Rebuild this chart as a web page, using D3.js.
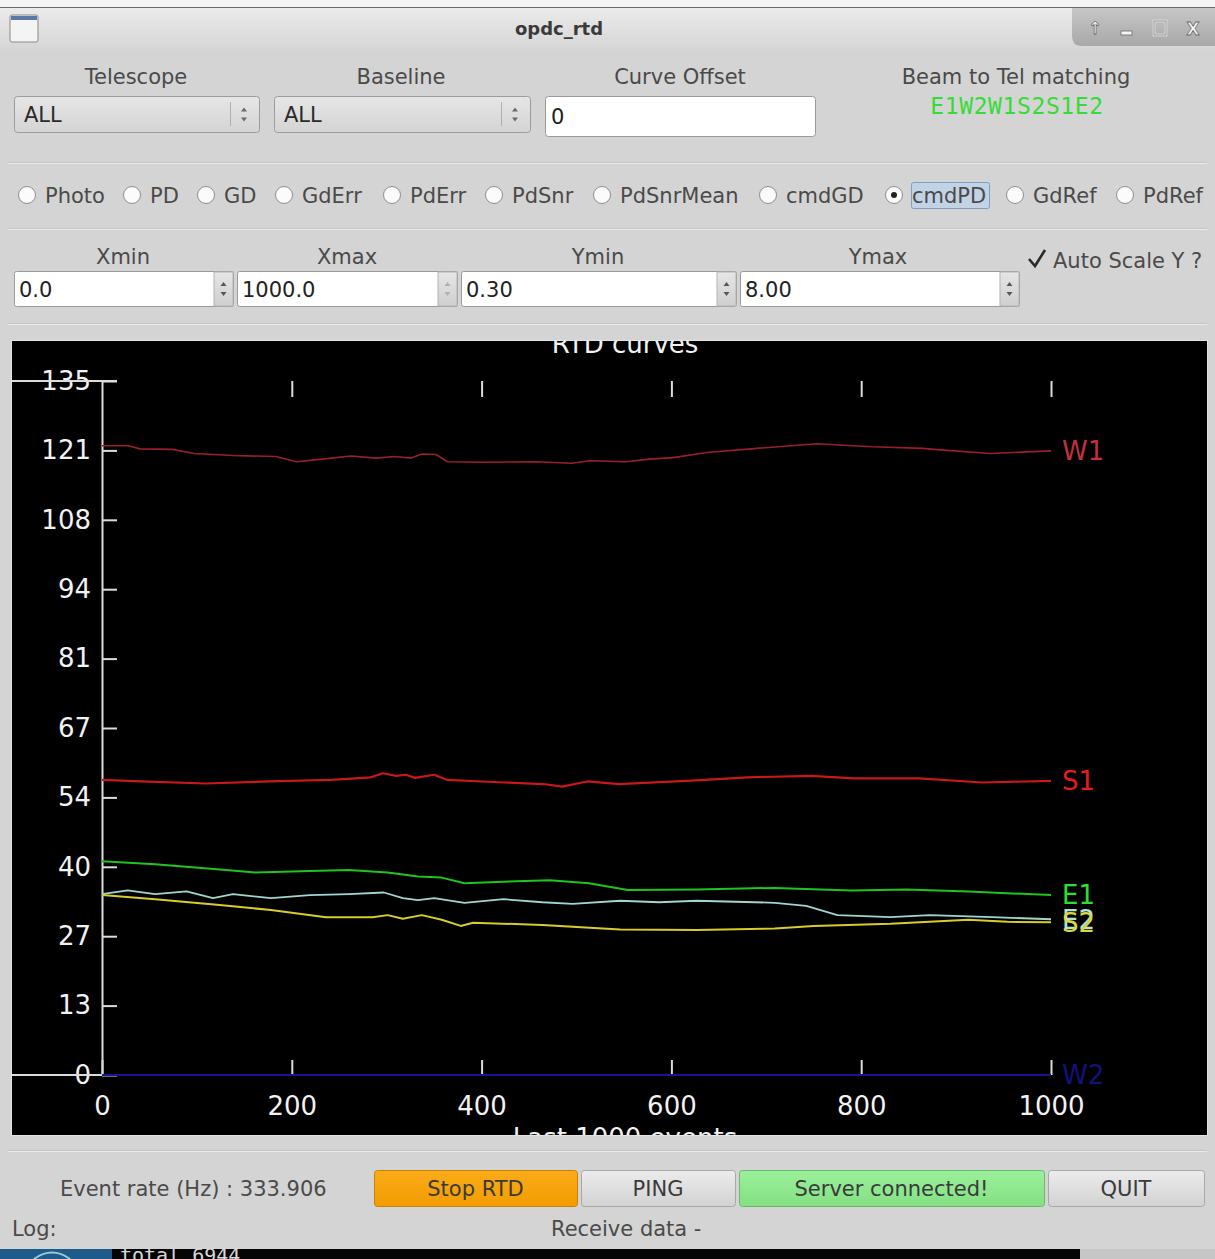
<!DOCTYPE html>
<html>
<head>
<meta charset="utf-8">
<script src="https://cdn.jsdelivr.net/npm/d3@7"></script>
<style>
  html, body { margin: 0; padding: 0; background: #d4d4d4; }
  svg { display: block; font-family: "DejaVu Sans", sans-serif; }
</style>
</head>
<body>
<svg id="app" width="1215" height="1259"></svg>
<script>
// ---- curve data (event index -> cmdPD value) ----
const W1_x = [0, 28, 40, 74, 97, 138, 183, 205, 232, 262, 289, 308, 326, 337, 352, 364, 401, 457, 495, 514, 552, 577, 602, 637, 690, 753, 812, 865, 883, 936, 1000];
const W1_y = [122.4, 122.4, 121.8, 121.7, 120.9, 120.5, 120.3, 119.3, 119.8, 120.4, 120.0, 120.3, 120.0, 120.8, 120.7, 119.3, 119.2, 119.3, 119.0, 119.5, 119.3, 119.8, 120.1, 121.1, 121.9, 122.8, 122.2, 121.9, 121.6, 120.9, 121.4];

const S1_x = [0, 41, 109, 176, 242, 283, 296, 310, 320, 330, 350, 364, 424, 465, 485, 511, 545, 626, 680, 747, 793, 861, 928, 1000];
const S1_y = [57.4, 57.1, 56.7, 57.1, 57.4, 57.9, 58.7, 58.2, 58.4, 57.8, 58.4, 57.4, 56.9, 56.6, 56.1, 57.1, 56.6, 57.3, 57.9, 58.2, 57.7, 57.7, 56.9, 57.2];

const E1_x = [0, 56, 121, 162, 219, 260, 301, 333, 358, 382, 423, 472, 513, 554, 627, 709, 790, 848, 913, 1000];
const E1_y = [41.6, 41.0, 40.0, 39.4, 39.7, 39.9, 39.4, 38.6, 38.4, 37.3, 37.6, 37.9, 37.3, 36.0, 36.1, 36.4, 35.9, 36.1, 35.7, 35.0];

const E2_x = [0, 27, 56, 89, 117, 138, 178, 219, 260, 297, 317, 333, 350, 382, 423, 464, 496, 546, 587, 627, 709, 742, 775, 831, 872, 938, 1000];
const E2_y = [35.2, 35.9, 35.2, 35.7, 34.4, 35.2, 34.4, 35.0, 35.2, 35.5, 34.4, 34.0, 34.4, 33.5, 34.2, 33.6, 33.3, 33.9, 33.6, 33.9, 33.5, 32.9, 31.1, 30.7, 31.1, 30.7, 30.3];

const S2_x = [0, 56, 121, 178, 236, 285, 301, 317, 337, 358, 378, 391, 464, 546, 627, 709, 750, 831, 913, 954, 1000];
const S2_y = [35.0, 34.2, 33.1, 32.1, 30.7, 30.7, 31.1, 30.4, 31.1, 30.2, 29.0, 29.6, 29.2, 28.3, 28.2, 28.5, 29.0, 29.4, 30.2, 29.8, 29.7];

const W2_x = [0, 1000];
const W2_y = [0, 0];

// ---- axis ticks ----
const xTickValues = [0, 200, 400, 600, 800, 1000];
const xTickLabels = ["0", "200", "400", "600", "800", "1000"];
const yTickValues = [0, 13.5, 27, 40.5, 54, 67.5, 81, 94.5, 108, 121.5, 135];
const yTickLabels = ["0", "13", "27", "40", "54", "67", "81", "94", "108", "121", "135"];

// ---- UI choices ----
const plotModes = ["Photo", "PD", "GD", "GdErr", "PdErr", "PdSnr", "PdSnrMean", "cmdGD", "cmdPD", "GdRef", "PdRef"];
const selectedMode = "cmdPD";
const beamMatching = "E1W2W1S2S1E2";

const series = [
  { name: "W2", xs: W2_x, ys: W2_y, stroke: "#16168e", label: "#12127a", width: 2 },
  { name: "W1", xs: W1_x, ys: W1_y, stroke: "#9a1f2e", label: "#c3303f", width: 1.6 },
  { name: "S1", xs: S1_x, ys: S1_y, stroke: "#c81818", label: "#e41c1c", width: 2.2 },
  { name: "E1", xs: E1_x, ys: E1_y, stroke: "#1fc41f", label: "#2ee02e", width: 2 },
  { name: "E2", xs: E2_x, ys: E2_y, stroke: "#9fd6cf", label: "#aee6d6", width: 1.8 },
  { name: "S2", xs: S2_x, ys: S2_y, stroke: "#d8cc2a", label: "#dcd642", width: 2 }
];

const svg = d3.select("#app");
const defs = svg.append("defs");

function vgrad(id, top, bottom) {
  const g = defs.append("linearGradient").attr("id", id).attr("x1", 0).attr("y1", 0).attr("x2", 0).attr("y2", 1);
  g.append("stop").attr("offset", "0%").attr("stop-color", top);
  g.append("stop").attr("offset", "100%").attr("stop-color", bottom);
}
vgrad("gTitle", "#ebebeb", "#d6d6d6");
vgrad("gWinBtns", "#c6c6c6", "#a8a8a8");
vgrad("gCombo", "#e6e6e6", "#d4d4d4");
vgrad("gBtn", "#ececec", "#d2d2d2");
vgrad("gOrange", "#fbab1a", "#f29c00");
vgrad("gGreen", "#9af09a", "#84e084");
vgrad("gSpin", "#e6e6e6", "#cfcfcf");

// ---- window background & title bar ----
svg.append("rect").attr("width", 1215).attr("height", 1259).attr("fill", "#d4d4d4");
svg.append("rect").attr("x", 0).attr("y", 0).attr("width", 1215).attr("height", 7).attr("fill", "#f4f4f4");
svg.append("rect").attr("x", 0).attr("y", 7).attr("width", 1215).attr("height", 42).attr("fill", "url(#gTitle)");
svg.append("line").attr("x1", 0).attr("x2", 1215).attr("y1", 7.5).attr("y2", 7.5).attr("stroke", "#6a6a6a");
// app icon
svg.append("rect").attr("x", 10).attr("y", 15).attr("width", 28).attr("height", 27).attr("rx", 2)
  .attr("fill", "#f4f4f4").attr("stroke", "#8a8a8a");
svg.append("rect").attr("x", 11).attr("y", 16).attr("width", 26).attr("height", 4).attr("fill", "#5a78a8");
svg.append("text").attr("x", 559).attr("y", 35).attr("text-anchor", "middle")
  .attr("font-size", 18).attr("font-weight", "bold").attr("fill", "#3a3a3a").text("opdc_rtd");
// window buttons block
svg.append("path").attr("d", "M1072,8 H1215 V46 H1082 Q1072,46 1072,36 Z").attr("fill", "url(#gWinBtns)");
const wb = svg.append("g").attr("fill", "#f6f6f6").attr("stroke", "#6a6a6a").attr("stroke-width", 0.8)
  .attr("font-size", 17).attr("font-weight", "bold").attr("text-anchor", "middle");
wb.append("text").attr("x", 1095).attr("y", 34).text("↑");
wb.append("rect").attr("x", 1121).attr("y", 31).attr("width", 11).attr("height", 4);
wb.append("rect").attr("x", 1154).attr("y", 21).attr("width", 12).attr("height", 14).attr("fill", "none").attr("stroke", "#f6f6f6").attr("stroke-width", 2.5);
wb.append("rect").attr("x", 1154).attr("y", 21).attr("width", 12).attr("height", 14).attr("fill", "none");
wb.append("text").attr("x", 1193).attr("y", 35).text("X");

// ---- helpers for widgets ----
const textCol = "#4a4a4a";
function label(x, y, s, anchor = "middle", size = 21, fill = textCol) {
  return svg.append("text").attr("x", x).attr("y", y).attr("text-anchor", anchor)
    .attr("font-size", size).attr("fill", fill).text(s);
}
function separator(y) {
  svg.append("line").attr("x1", 8).attr("x2", 1207).attr("y1", y - 0.5).attr("y2", y - 0.5).attr("stroke", "#c4c4c4");
  svg.append("line").attr("x1", 8).attr("x2", 1207).attr("y1", y + 0.5).attr("y2", y + 0.5).attr("stroke", "#ececec");
}
function updown(cx, cy, col = "#555") {
  svg.append("path").attr("d", `M${cx - 3},${cy - 3} L${cx},${cy - 7} L${cx + 3},${cy - 3} Z`).attr("fill", col);
  svg.append("path").attr("d", `M${cx - 3},${cy + 3} L${cx},${cy + 7} L${cx + 3},${cy + 3} Z`).attr("fill", col);
}
function combo(x, y, w, h, s) {
  svg.append("rect").attr("x", x + 0.5).attr("y", y + 0.5).attr("width", w).attr("height", h).attr("rx", 3)
    .attr("fill", "url(#gCombo)").attr("stroke", "#9c9c9c");
  label(x + 10, y + h / 2 + 8, s, "start", 21, "#2a2a2a");
  svg.append("line").attr("x1", x + w - 28.5).attr("x2", x + w - 28.5).attr("y1", y + 6).attr("y2", y + h - 6).attr("stroke", "#b0b0b0");
  updown(x + w - 15, y + h / 2 + 0.5, "#6a6a6a");
}
function spinbox(x, y, w, h, s, dim) {
  svg.append("rect").attr("x", x + 0.5).attr("y", y + 0.5).attr("width", w).attr("height", h).attr("rx", 2)
    .attr("fill", "#ffffff").attr("stroke", "#9a9a9a");
  svg.append("rect").attr("x", x + w - 19).attr("y", y + 1).attr("width", 19).attr("height", h - 1)
    .attr("fill", "url(#gSpin)").attr("stroke", "#b4b4b4");
  updown(x + w - 9.5, y + h / 2 + 0.5, dim ? "#b0b0b0" : "#555");
  label(x + 5, y + h / 2 + 8, s, "start", 21, "#222");
}
function button(x, y, w, h, s, fill, stroke) {
  svg.append("rect").attr("x", x + 0.5).attr("y", y + 0.5).attr("width", w).attr("height", h).attr("rx", 3)
    .attr("fill", fill).attr("stroke", stroke);
  label(x + w / 2, y + h / 2 + 8, s, "middle", 21, "#3a3a3a");
}

// ---- row 1: selectors ----
label(136, 84, "Telescope");
label(401, 84, "Baseline");
label(680, 84, "Curve Offset");
label(1016, 84, "Beam to Tel matching");
combo(14, 96, 245, 36, "ALL");
combo(274, 96, 256, 36, "ALL");
svg.append("rect").attr("x", 545.5).attr("y", 96.5).attr("width", 270).attr("height", 40).attr("rx", 3)
  .attr("fill", "#ffffff").attr("stroke", "#9a9a9a");
label(551, 124, "0", "start", 21, "#222");
svg.append("text").attr("x", 1017).attr("y", 114).attr("text-anchor", "middle")
  .attr("font-family", "'DejaVu Sans Mono', monospace").attr("font-size", 23).attr("letter-spacing", 0.6)
  .attr("fill", "#36dc36").text(beamMatching);
separator(163);

// ---- row 2: plot mode radios ----
const radioX = [27, 132, 206, 284, 392, 494, 602, 768, 894, 1015, 1125];
plotModes.forEach((m, i) => {
  const cx = radioX[i];
  svg.append("circle").attr("cx", cx).attr("cy", 195).attr("r", 8.5)
    .attr("fill", "#fbfbfb").attr("stroke", "#8e8e8e");
  if (m === selectedMode) {
    svg.append("circle").attr("cx", cx).attr("cy", 195).attr("r", 3).attr("fill", "#222");
    svg.append("rect").attr("x", 911.5).attr("y", 182.5).attr("width", 78).attr("height", 26).attr("rx", 2)
      .attr("fill", "#c3d3e6").attr("stroke", "#7f9ec4");
  }
  label(cx + 18, 203, m, "start");
});
separator(229);

// ---- row 3: ranges ----
label(123, 264, "Xmin");
label(347, 264, "Xmax");
label(598, 264, "Ymin");
label(878, 264, "Ymax");
spinbox(14, 271, 219, 35, "0.0", false);
spinbox(237, 271, 220, 35, "1000.0", true);
spinbox(461, 271, 275, 35, "0.30", false);
spinbox(740, 271, 279, 35, "8.00", false);
svg.append("path").attr("d", "M1029,259 L1035,266 L1045,250").attr("fill", "none")
  .attr("stroke", "#2a2a2a").attr("stroke-width", 2.6);
label(1053, 268, "Auto Scale Y ?", "start");
separator(324);

// ---- plot panel ----
const panel = { x: 12, y: 341, w: 1195, h: 794 };
defs.append("clipPath").attr("id", "panelClip").append("rect")
  .attr("x", panel.x).attr("y", panel.y).attr("width", panel.w).attr("height", panel.h);
svg.append("rect").attr("x", panel.x - 1).attr("y", panel.y - 1).attr("width", panel.w + 2).attr("height", panel.h + 2)
  .attr("fill", "#e4e4e4");
const plot = svg.append("g").attr("clip-path", "url(#panelClip)");
plot.append("rect").attr("x", panel.x).attr("y", panel.y).attr("width", panel.w).attr("height", panel.h).attr("fill", "#000");

const x = d3.scaleLinear().domain([0, 1000]).range([102, 1051]);
const y = d3.scaleLinear().domain([0, 135]).range([1075, 381]);

const axisCol = "#dcdcdc";
const tickFont = 26;

// y axis: ticks point into the plot, labels to the left
const yAxis = plot.append("g").attr("transform", `translate(${x(0)},0)`)
  .call(d3.axisLeft(y).tickValues(yTickValues).tickFormat((d, i) => yTickLabels[i])
    .tickSizeInner(-15).tickSizeOuter(0).tickPadding(11));
yAxis.select(".domain").attr("stroke", axisCol).attr("stroke-width", 2);
yAxis.selectAll(".tick line").attr("stroke", axisCol).attr("stroke-width", 2);
yAxis.selectAll(".tick text").attr("fill", "#f2f2f2").attr("font-size", tickFont)
  .attr("font-family", "'DejaVu Sans', sans-serif");

// long reference lines at the top and bottom of the y range
[135, 0].forEach(v => {
  plot.append("line").attr("x1", panel.x).attr("x2", x(0) + 15).attr("y1", y(v)).attr("y2", y(v))
    .attr("stroke", axisCol).attr("stroke-width", 2);
});

// x axis: bottom ticks point up, labels below
const xAxis = plot.append("g").attr("transform", `translate(0,${y(0)})`)
  .call(d3.axisBottom(x).tickValues(xTickValues).tickFormat((d, i) => xTickLabels[i])
    .tickSizeInner(-15).tickSizeOuter(0).tickPadding(22));
xAxis.select(".domain").remove();
xAxis.selectAll(".tick line").attr("stroke", axisCol).attr("stroke-width", 2);
xAxis.selectAll(".tick text").attr("fill", "#f2f2f2").attr("font-size", tickFont)
  .attr("font-family", "'DejaVu Sans', sans-serif");

// top ticks (no labels)
const xTop = plot.append("g").attr("transform", `translate(0,${y(135)})`)
  .call(d3.axisTop(x).tickValues(xTickValues.slice(1)).tickFormat("").tickSizeInner(-16).tickSizeOuter(0));
xTop.select(".domain").remove();
xTop.selectAll(".tick line").attr("stroke", axisCol).attr("stroke-width", 2);

// curves
const line = d3.line().x(d => x(d[0])).y(d => y(d[1]));
series.forEach(s => {
  const pts = s.xs.map((v, i) => [v, s.ys[i]]);
  plot.append("path").datum(pts).attr("d", line).attr("fill", "none")
    .attr("stroke", s.stroke).attr("stroke-width", s.width).attr("stroke-linejoin", "round");
});
series.forEach(s => {
  const lastX = s.xs[s.xs.length - 1];
  const lastY = s.ys[s.ys.length - 1];
  plot.append("text").attr("x", x(lastX) + 11).attr("y", y(lastY)).attr("dy", "0.36em")
    .attr("font-size", 26).attr("fill", s.label).text(s.name);
});

// title and x label (partly outside the panel, clipped)
plot.append("text").attr("x", 625).attr("y", 353).attr("text-anchor", "middle")
  .attr("font-size", 26).attr("fill", "#f2f2f2").text("RTD curves");
plot.append("text").attr("x", 625).attr("y", 1147).attr("text-anchor", "middle")
  .attr("font-size", 26).attr("fill", "#f2f2f2").text("Last 1000 events");

// ---- bottom controls ----
separator(1151);
label(60, 1196, "Event rate (Hz) : 333.906", "start", 21);
button(374, 1170, 203, 36, "Stop RTD", "url(#gOrange)", "#c88400");
button(581, 1170, 154, 36, "PING", "url(#gBtn)", "#a8a8a8");
button(739, 1170, 305, 36, "Server connected!", "url(#gGreen)", "#6cb86c");
button(1048, 1170, 156, 36, "QUIT", "url(#gBtn)", "#a8a8a8");
label(12, 1236, "Log:", "start", 21);
label(551, 1236, "Receive data -", "start", 21);

// terminal strip below the window
svg.append("rect").attr("x", 0).attr("y", 1249).attr("width", 1080).attr("height", 10).attr("fill", "#050505");
svg.append("rect").attr("x", 1080).attr("y", 1249).attr("width", 135).attr("height", 10).attr("fill", "#c6c6c6");
svg.append("rect").attr("x", 0).attr("y", 1249).attr("width", 112).attr("height", 10).attr("fill", "#1f5b8a");
svg.append("path").attr("d", "M34,1259 Q52,1246 70,1259").attr("fill", "none").attr("stroke", "#9cc").attr("stroke-width", 2);
svg.append("text").attr("x", 120).attr("y", 1262).attr("font-family", "'DejaVu Sans Mono', monospace")
  .attr("font-size", 20).attr("fill", "#d8d8d8").text("total 6944");
</script>
</body>
</html>
